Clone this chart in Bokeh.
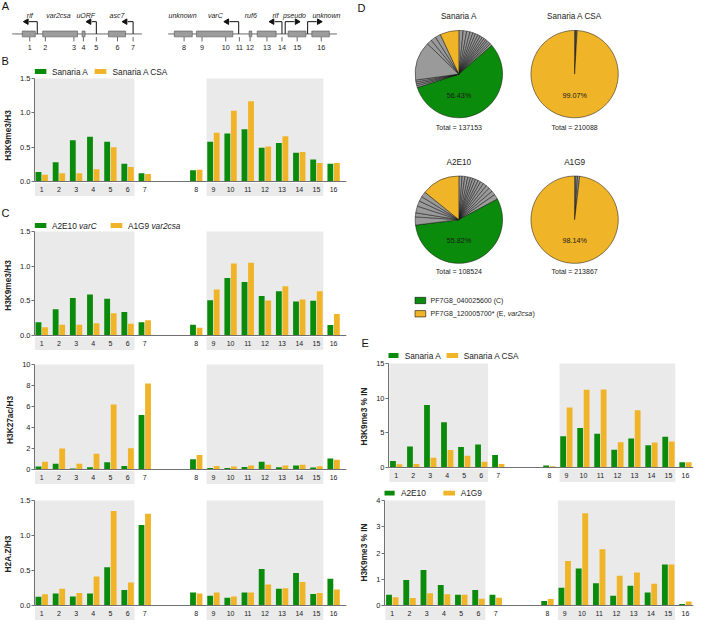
import math
from bokeh.plotting import figure
from bokeh.models import Range1d, FixedTicker, Title, Span, ColumnDataSource, NumeralTickFormatter
from bokeh.layouts import row, column
from bokeh.transform import dodge
from bokeh.core.properties import value
from bokeh.embed import file_html
from bokeh.resources import INLINE

FONT = "Liberation Sans"
GREEN = "#0B8B0B"
ORANGE = "#F0B429"
SHADE = "#EAEAEA"
GREY = "#9A9A9A"
AXIS = "#707070"
TXT = "#222222"
S = 0.975  # reference px -> page px

# ---------------- data ----------------
sites = [str(i) for i in range(1, 17)]
shaded_blocks = [("1", "6"), ("9", "15")]

b_sanaria_a     = [0.14, 0.28, 0.60, 0.65, 0.58, 0.26, 0.12, 0.165, 0.58, 0.70, 0.76, 0.49, 0.56, 0.42, 0.32, 0.26]
b_sanaria_a_csa = [0.10, 0.12, 0.12, 0.18, 0.50, 0.21, 0.11, 0.17, 0.71, 1.03, 1.17, 0.51, 0.66, 0.43, 0.27, 0.27]

c_k9_a2e10 = [0.19, 0.38, 0.54, 0.59, 0.53, 0.34, 0.19, 0.155, 0.51, 0.83, 0.77, 0.57, 0.64, 0.49, 0.50, 0.15]
c_k9_a1g9  = [0.12, 0.155, 0.155, 0.175, 0.32, 0.17, 0.22, 0.11, 0.665, 1.04, 1.05, 0.505, 0.71, 0.52, 0.64, 0.31]

c_k27_a2e10 = [0.28, 0.55, 0.09, 0.22, 0.70, 0.33, 5.2, 0.98, 0.15, 0.15, 0.25, 0.74, 0.22, 0.37, 0.18, 1.05]
c_k27_a1g9  = [0.74, 2.0, 0.55, 1.5, 6.2, 2.03, 8.2, 1.38, 0.34, 0.28, 0.37, 0.46, 0.37, 0.46, 0.31, 0.92]

c_h2az_a2e10 = [0.126, 0.17, 0.13, 0.17, 0.547, 0.22, 1.15, 0.187, 0.14, 0.112, 0.187, 0.52, 0.238, 0.463, 0.164, 0.383]
c_h2az_a1g9  = [0.16, 0.24, 0.177, 0.415, 1.35, 0.327, 1.31, 0.173, 0.187, 0.13, 0.187, 0.30, 0.248, 0.336, 0.178, 0.23]

e_sanaria_a     = [0.93, 3.04, 9.02, 6.54, 2.94, 3.32, 1.82, 0.28, 4.49, 5.70, 4.86, 2.57, 4.20, 3.22, 4.44, 0.75]
e_sanaria_a_csa = [0.47, 0.51, 1.40, 2.52, 1.68, 0.84, 0.51, 0.19, 8.64, 11.2, 11.26, 3.64, 8.27, 3.60, 3.74, 0.75]

e_a2e10 = [0.41, 0.97, 1.35, 0.78, 0.41, 0.59, 0.41, 0.17, 0.68, 1.41, 0.85, 0.37, 0.755, 0.495, 1.56, 0.06]
e_a1g9  = [0.31, 0.285, 0.47, 0.43, 0.41, 0.26, 0.30, 0.25, 1.70, 3.51, 2.14, 1.13, 1.26, 0.83, 1.56, 0.15]

# pies: slice percentages clockwise from 12 o'clock; kind o = other, C = PF7G8_040025600, E = var2csa
pie_samples = ["Sanaria A", "Sanaria A CSA", "A2E10", "A1G9"]
pie_totals = [137153, 210088, 108524, 213867]
pie_main_labels = ["56.43%", "99.07%", "55.82%", "98.14%"]
pie_sanaria_a_pct = [1.6, 1.3, 1.2, 1.1, 1.0, 1.0, 0.9, 0.9, 0.8, 0.8, 0.7, 0.8, 0.7, 0.8,
                     56.43, 0.7, 0.7, 0.7, 0.7, 14.4, 1.9, 1.9, 2.0, 6.97]
pie_sanaria_a_kind = ["o"] * 14 + ["C"] + ["o"] * 8 + ["E"]
pie_sanaria_a_csa_pct = [0.3, 0.3, 0.33, 99.07]
pie_sanaria_a_csa_kind = ["o", "o", "o", "E"]
pie_a2e10_pct = [1.2, 1.0, 1.1, 1.0, 0.9, 1.0, 1.1, 1.0, 1.2, 1.3, 1.4, 1.5, 1.6, 1.9,
                 55.82, 3.0, 1.5, 2.5, 2.0, 1.8, 2.0, 14.18]
pie_a2e10_kind = ["o"] * 14 + ["C"] + ["o"] * 6 + ["E"]
pie_a1g9_pct = [0.5, 0.6, 0.76, 98.14]
pie_a1g9_kind = ["o", "o", "o", "E"]
pie_legend = ["PF7G8_040025600 (C)", "PF7G8_120005700* (E,"]

# panel A schematic (reference px)
a_backbones = [(12, 145), (172, 345)]
a_box_x0 = [22.3, 43.3, 83.7, 110.7, 178.3, 201.0, 255.0, 263.3, 295.0, 319.3]
a_box_x1 = [35.7, 79.0, 86.7, 128.3, 196.7, 238.3, 257.7, 282.7, 313.3, 337.3]
a_gene_names = ["rif", "var2csa", "uORF", "asc7", "unknown", "varC", "ruf6", "rif", "pseudo", "unknown"]
a_name_x = [30.0, 59.5, 87.5, 119.5, 186.7, 220.3, 256.7, 282.0, 301.5, 334.3]
a_arrow_base = [37.7, 98.3, 136.0, 244.3, 288.7, 292.0, 315.0]
a_arrow_tip = [26.7, 91.0, 128.0, 232.3, 278.7, 304.0, 326.7]
a_site_x = [30.0, 46.0, 75.3, 85.0, 98.3, 120.0, 136.0, 188.3, 206.7, 231.0, 245.0, 256.0, 273.3, 288.7, 304.3, 329.0]

# ---------------- helpers ----------------
_AW = {" ": 278, "A": 667, "C": 722, "E": 667, "G": 778, "P": 667, "F": 611, "(": 333, ")": 333,
       "*": 389, ",": 278, "_": 556, "a": 556, "c": 500, "r": 333, "s": 500, "v": 500}


def tw(s, size):
    return sum(_AW.get(ch, 556) for ch in s) * size / 1000.0


KIND_COLOR = {"o": GREY, "C": GREEN, "E": ORANGE}
TH = 14  # height taken by a panel letter placed as title


def base_fig(**kw):
    return figure(output_backend="svg", toolbar_location=None, frame_align=False,
                  outline_line_color=None, background_fill_color="white",
                  border_fill_color="white", **kw)


def bar_panel(ox, oy, w, h, L, R, T, P, ymax, yticks, fmt, ylabel, xs, xe, g, o,
              legend=None, letter=None):
    """ox, oy: page position of the figure; T: px from figure top to the ymax line;
    P: px from ymax line to the zero line. Legend positions are given in page px."""
    ft = TH if letter else 0
    W = w - L - R
    upx = (xe - xs) / W
    upy = ymax / P
    y1 = ymax + (T - ft) * upy
    y0 = y1 - (h - ft) * upy

    def X(xp):
        return xs + (xp - ox - L) * upx

    def Y(yp):
        return y1 - (yp - oy - ft) * upy

    def Ypx(py):
        return y1 - (py - ft) * upy

    p = base_fig(width=w, height=h, x_range=Range1d(xs, xe), y_range=Range1d(y0, y1),
                 min_border_left=L, min_border_right=R, min_border_top=0, min_border_bottom=0)
    if letter:
        p.title = Title(text=letter, align="left", offset=1 - L, standoff=0,
                        text_font=FONT, text_font_size="11px", text_font_style="normal",
                        text_color="#111111")
    p.xaxis.visible = False
    p.grid.visible = False
    ax = p.yaxis[0]
    ax.bounds = (0, ymax)
    ax.ticker = FixedTicker(ticks=yticks)
    ax.formatter = NumeralTickFormatter(format=fmt)
    ax.axis_line_color = AXIS
    ax.major_tick_line_color = AXIS
    ax.minor_tick_line_color = None
    ax.major_tick_out = 3
    ax.major_tick_in = 0
    ax.major_label_standoff = 1
    ax.major_label_text_font = FONT
    ax.major_label_text_font_size = "7.5px"
    ax.major_label_text_color = TXT
    ax.axis_label = ylabel
    ax.axis_label_text_font = FONT
    ax.axis_label_text_font_size = "8.3px"
    ax.axis_label_text_font_style = "bold"
    ax.axis_label_text_color = TXT
    ax.axis_label_standoff = 4

    pos = [i + 1 if i < 7 else i + 3 for i in range(len(sites))]
    src = ColumnDataSource(dict(pos=pos, site=sites, g=g, o=o))
    lefts = [pos[sites.index(a)] - 0.4 for a, b in shaded_blocks]
    rights = [pos[sites.index(b)] + 0.4 for a, b in shaded_blocks]
    base = T + P
    p.quad(left=lefts, right=rights, bottom=0, top=ymax, fill_color=SHADE, line_color=None)
    p.quad(left=lefts, right=rights, bottom=Ypx(base + 14.5), top=Ypx(base + 1.5),
           fill_color=SHADE, line_color=None)
    p.vbar(x=dodge("pos", -0.19, range=p.x_range), top="g", bottom=0, width=0.34, source=src,
           fill_color=GREEN, line_color=None)
    p.vbar(x=dodge("pos", 0.19, range=p.x_range), top="o", bottom=0, width=0.34, source=src,
           fill_color=ORANGE, line_color=None)
    p.add_layout(Span(location=0, dimension="width", line_color=AXIS, line_width=1))
    p.text(x="pos", y=Ypx(base + 8), text="site", source=src, text_align="center",
           text_baseline="middle", text_font=value(FONT), text_font_size="7px", text_color=TXT)

    if legend:
        for item in legend:
            if item[0] == "sw":
                _, col, xc, yc = item
                p.rect(x=X(xc), y=Y(yc), width=11.7 * upx, height=4.9 * upy,
                       fill_color=col, line_color=None)
            else:
                _, txt, xp, yp, style = item
                p.text(x=X(xp), y=Y(yp), text=[txt], text_align="left", text_baseline="middle",
                       text_font=value(FONT), text_font_size="8.3px", text_color=TXT,
                       text_font_style=style)
    return p


LF = 8.3  # legend font size (px)

# ---------------- panel A ----------------
AW, AH = 356, 52
a_h_ref = AH / S
pA = base_fig(width=AW, height=AH, x_range=Range1d(0, AW / S), y_range=Range1d(0, a_h_ref),
              min_border=0)
pA.axis.visible = False
pA.grid.visible = False


def ya(yr):
    return a_h_ref - yr


pA.segment(x0=[b[0] for b in a_backbones], x1=[b[1] for b in a_backbones],
           y0=ya(34.3), y1=ya(34.3), line_color="#6A6A6A", line_width=1)
pA.quad(left=a_box_x0, right=a_box_x1, bottom=ya(37.3), top=ya(31.3),
        fill_color="#9C9C9C", line_color="#555555", line_width=0.6)
arrow_dir = [1 if t > b else -1 for b, t in zip(a_arrow_base, a_arrow_tip)]
pA.multi_line(xs=[[b, b, t - d * 2.5] for b, t, d in zip(a_arrow_base, a_arrow_tip, arrow_dir)],
              ys=[[ya(34.3), ya(21.7), ya(21.7)] for _ in a_arrow_base],
              line_color="#111111", line_width=1)
pA.scatter(x=a_arrow_tip, y=ya(21.7), marker="triangle", size=5.5,
           angle=[-math.pi / 2 if d > 0 else math.pi / 2 for d in arrow_dir],
           fill_color="#111111", line_color="#111111")
pA.text(x=a_name_x, y=ya(15.3), text=a_gene_names, text_align="center", text_baseline="middle",
        text_font=value(FONT), text_font_size="7px", text_font_style="italic", text_color=TXT)
pA.segment(x0=a_site_x, x1=a_site_x, y0=ya(37.5), y1=ya(42), line_color="#444444", line_width=0.8)
pA.text(x=a_site_x, y=ya(48.6), text=sites, text_align="center", text_baseline="middle",
        text_font=value(FONT), text_font_size="7.2px", text_color=TXT)
pA.text(x=[5], y=[ya(6)], text=["A"], text_align="center", text_baseline="middle",
        text_font=value(FONT), text_font_size="11px", text_color="#111111")

# ---------------- bar panels (left) ----------------
LX = (0.578, 18.75)
pB = bar_panel(0, 52, 356, 152, 34, 10, 26, 103, 1.5, [0, 0.5, 1.0, 1.5], "0.0", "H3K9me3/H3",
               LX[0], LX[1], b_sanaria_a, b_sanaria_a_csa,
               legend=[("sw", GREEN, 40, 71), ("tx", "Sanaria A", 51.4, 71, "normal"),
                       ("sw", ORANGE, 100, 71), ("tx", "Sanaria A CSA", 112, 71, "normal")],
               letter="B")
ly = 225
pC1 = bar_panel(0, 204, 356, 148, 34, 10, 27, 104, 1.5, [0, 0.5, 1.0, 1.5], "0.0", "H3K9me3/H3",
                LX[0], LX[1], c_k9_a2e10, c_k9_a1g9,
                legend=[("sw", GREEN, 40, ly), ("tx", "A2E10", 51.4, ly, "normal"),
                        ("tx", "varC", 51.4 + tw("A2E10 ", LF), ly, "italic"),
                        ("sw", ORANGE, 116, ly), ("tx", "A1G9", 127.4, ly, "normal"),
                        ("tx", "var2csa", 127.4 + tw("A1G9 ", LF), ly, "italic")],
                letter="C")
pC2 = bar_panel(0, 352, 356, 135, 34, 10, 12, 105, 10, [0, 2, 4, 6, 8, 10], "0", "H3K27ac/H3",
                LX[0], LX[1], c_k27_a2e10, c_k27_a1g9)
pC3 = bar_panel(0, 487, 356, 133, 34, 10, 13, 105, 1.5, [0, 0.5, 1.0, 1.5], "0.0", "H2A.Z/H3",
                LX[0], LX[1], c_h2az_a2e10, c_h2az_a1g9)

# ---------------- panel D (pies) ----------------
DW, DH = 340, 334
d_h_ref = DH / S
pD = base_fig(width=DW, height=DH, x_range=Range1d(365, 365 + DW / S), y_range=Range1d(0, d_h_ref),
              min_border=0)
pD.axis.visible = False
pD.grid.visible = False


def yd(yr):
    return d_h_ref - yr


pie_centers = [(470, 75.5), (588.7, 75.5), (470, 224.8), (588.7, 224.8)]
pie_title_y = [16, 16, 165.7, 165.7]
pie_total_y = [130, 130, 278, 278]
pie_pcts = [pie_sanaria_a_pct, pie_sanaria_a_csa_pct, pie_a2e10_pct, pie_a1g9_pct]
pie_kinds = [pie_sanaria_a_kind, pie_sanaria_a_csa_kind, pie_a2e10_kind, pie_a1g9_kind]
R_PIE = 44.8
for (cx, cy), pcts, kinds in zip(pie_centers, pie_pcts, pie_kinds):
    tot = sum(pcts)
    c0, acc = [], 0.0
    for v in pcts:
        c0.append(acc)
        acc += v
    starts = [math.pi / 2 - 2 * math.pi * a / tot for a in c0]
    ends = [math.pi / 2 - 2 * math.pi * (a + v) / tot for a, v in zip(c0, pcts)]
    pD.wedge(x=cx, y=yd(cy), radius=R_PIE, start_angle=starts, end_angle=ends, direction="clock",
             fill_color=[KIND_COLOR[k] for k in kinds], line_color="#111111", line_width=0.5)
pD.text(x=[c[0] for c in pie_centers], y=[yd(v) for v in pie_title_y], text=pie_samples,
        text_align="center", text_baseline="middle", text_font=value(FONT),
        text_font_size="8.2px", text_color=TXT)
pD.text(x=[c[0] for c in pie_centers], y=[yd(v) for v in pie_total_y],
        text=[f"Total = {t}" for t in pie_totals], text_align="center", text_baseline="middle",
        text_font=value(FONT), text_font_size="7px", text_color=TXT)
pD.text(x=[c[0] for c in pie_centers], y=[yd(c[1] + 21.5) for c in pie_centers],
        text=pie_main_labels, text_align="center", text_baseline="middle",
        text_font=value(FONT), text_font_size="7.2px", text_color="#1a1a1a")
pD.rect(x=[430.5, 430.5], y=[yd(307.7), yd(321.3)], width=11, height=6.5,
        fill_color=[GREEN, ORANGE], line_color="#111111", line_width=0.6)
pD.text(x=[441, 441], y=[yd(307.7), yd(321.3)], text=pie_legend, text_align="left",
        text_baseline="middle", text_font=value(FONT), text_font_size="7px", text_color=TXT)
lx2 = 441 + tw(pie_legend[1] + " ", 7 / S) + 0.5
pD.text(x=[lx2], y=[yd(321.3)], text=["var2csa"], text_align="left", text_baseline="middle",
        text_font=value(FONT), text_font_size="7px", text_font_style="italic", text_color=TXT)
pD.text(x=[lx2 + tw("var2csa", 7 / S) + 0.3], y=[yd(321.3)], text=[")"], text_align="left",
        text_baseline="middle", text_font=value(FONT), text_font_size="7px", text_color=TXT)
pD.text(x=[370], y=[yd(7.5)], text=["D"], text_align="center", text_baseline="middle",
        text_font=value(FONT), text_font_size="11px", text_color="#111111")

# ---------------- panel E ----------------
RX = (0.548, 18.47)
pE1 = bar_panel(356, 334, 340, 150, 28, 3, 29, 104, 15, [0, 5, 10, 15], "0", "H3K9me3 % IN",
                RX[0], RX[1], e_sanaria_a, e_sanaria_a_csa,
                legend=[("sw", GREEN, 388.3, 355), ("tx", "Sanaria A", 400.4, 355, "normal"),
                        ("sw", ORANGE, 448.7, 355), ("tx", "Sanaria A CSA", 460.2, 355, "normal")],
                letter="E")
pE2 = bar_panel(356, 484, 340, 136, 28, 3, 16, 105, 4, [0, 1, 2, 3, 4], "0", "H3K9me3 % IN",
                RX[0], RX[1], e_a2e10, e_a1g9,
                legend=[("sw", GREEN, 388.3, 492.6), ("tx", "A2E10", 400.4, 492.6, "normal"),
                        ("sw", ORANGE, 448.7, 492.6), ("tx", "A1G9", 460.2, 492.6, "normal")])

layout = row(column(pA, pB, pC1, pC2, pC3, spacing=0), column(pD, pE1, pE2, spacing=0), spacing=0)
open("out.html", "w").write(file_html(layout, INLINE))
